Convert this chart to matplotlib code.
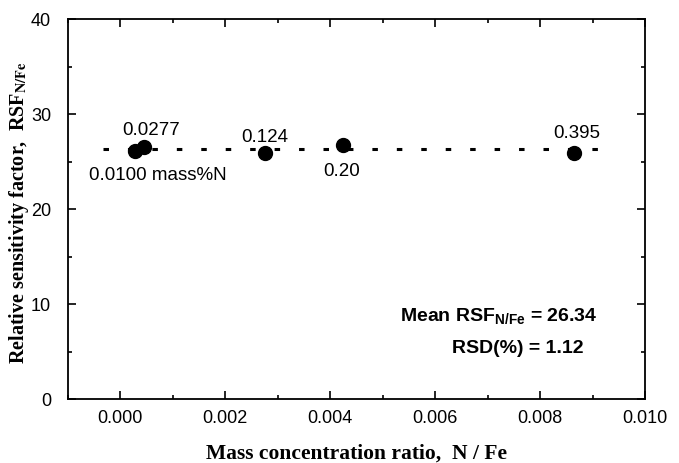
import matplotlib
matplotlib.use("Agg")
import matplotlib.pyplot as plt
from matplotlib.ticker import MultipleLocator

# data
ratio = [0.00027, 0.00045, 0.00275, 0.00425, 0.00865]
rsf = [26.15, 26.55, 25.9, 26.75, 25.95]
point_labels = ["0.0100 mass%N", "0.0277", "0.124", "0.20", "0.395"]
# label offsets in points (dx, dy) and alignment
label_offsets = [(-33, -18, "left"), (5, 12, "center"), (0, 11, "center"),
                 (-1.5, -19, "center"), (1.5, 14, "center")]
mean_rsf = 26.34
rsd = 1.12
fit_x = [-0.00033, 0.0093]

plt.rcParams["font.family"] = ["Liberation Sans", "DejaVu Sans"]
plt.rcParams["mathtext.fontset"] = "custom"
plt.rcParams["mathtext.rm"] = "Liberation Sans:bold"
plt.rcParams["mathtext.bf"] = "Liberation Sans:bold"

fig = plt.figure(figsize=(6.79, 4.63), dpi=100)
ax = fig.add_axes([0.100, 0.138, 0.850, 0.820])

ax.plot(fit_x, [mean_rsf] * len(fit_x), color="black", lw=2.2,
        linestyle=(0, (1.8, 6.2)))
ax.plot(ratio, rsf, "o", color="black", markersize=10)

for x, y, lab, (dx, dy, ha) in zip(ratio, rsf, point_labels, label_offsets):
    ax.annotate(lab, (x, y), xytext=(dx, dy), textcoords="offset points",
                ha=ha, va="center", fontsize=13.5)

ax.text(0.918, 0.216, r"Mean RSF$_{\mathbf{N/Fe}}$ = %.2f" % mean_rsf,
        transform=ax.transAxes, ha="right", va="center", fontsize=14,
        fontweight="bold", math_fontfamily="custom")
ax.text(0.894, 0.134, "RSD(%%) = %.2f" % rsd, transform=ax.transAxes,
        ha="right", va="center", fontsize=14, fontweight="bold")

ax.set_xlim(-0.001, 0.010)
ax.set_ylim(0, 40)
ax.xaxis.set_major_locator(MultipleLocator(0.002))
ax.xaxis.set_minor_locator(MultipleLocator(0.001))
ax.yaxis.set_major_locator(MultipleLocator(10))
ax.yaxis.set_minor_locator(MultipleLocator(5))
ax.xaxis.set_major_formatter(plt.FuncFormatter(lambda v, p: "%.3f" % v))
ax.tick_params(which="both", direction="in", top=True, right=True, labelsize=13,
               width=1.2)
ax.tick_params(which="major", length=6)
ax.tick_params(which="minor", length=3)
ax.tick_params(axis="x", which="major", pad=8)
ax.tick_params(axis="y", which="major", pad=12)
for s in ax.spines.values():
    s.set_linewidth(1.3)

ax.set_xlabel("Mass concentration ratio,  N / Fe", fontsize=15.5, fontweight="bold",
              family="Liberation Serif", labelpad=12)
ax.set_ylabel(r"Relative sensitivity factor,  RSF$_{\mathbf{N/Fe}}$", fontsize=14.5,
              fontweight="bold", family="Liberation Serif", math_fontfamily="stix")
ax.yaxis.set_label_coords(-0.064, 0.49)

fig.savefig("out.png", dpi=100)
